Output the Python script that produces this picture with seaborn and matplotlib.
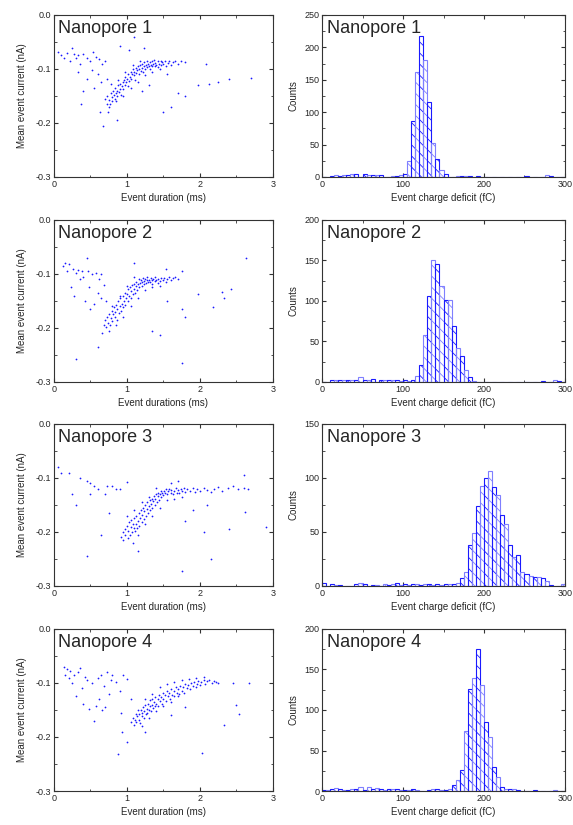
import numpy as np
import pandas as pd
import matplotlib
matplotlib.use("Agg")
import matplotlib.pyplot as plt
import seaborn as sns
from matplotlib.ticker import MultipleLocator

# ---- scatter data: (event duration ms, mean event current nA) ----
pore1_dur = [0.70, 0.72, 0.73, 0.75, 0.76, 0.78, 0.79, 0.80, 0.81, 0.82, 0.83, 0.84, 0.85, 0.86, 0.87, 0.88, 0.89, 0.90,
             0.91, 0.92, 0.93, 0.94, 0.95, 0.96, 0.97, 0.98, 0.99, 1.00, 1.01, 1.02, 1.03, 1.04, 1.05, 1.06, 1.07, 1.08,
             1.09, 1.10, 1.11, 1.12, 1.13, 1.14, 1.15, 1.16, 1.17, 1.18, 1.19, 1.20, 1.21, 1.22, 1.23, 1.24, 1.25, 1.26,
             1.27, 1.28, 1.29, 1.30, 1.31, 1.32, 1.33, 1.34, 1.35, 1.36, 1.37, 1.38, 1.39, 1.40, 1.42, 1.43, 1.44, 1.46,
             1.47, 1.48, 1.50, 1.52, 1.54, 1.56, 1.58, 1.60, 1.63, 1.66, 1.70, 1.74, 1.80, 0.74, 0.77, 0.85, 0.95, 1.05,
             1.15, 1.25, 1.35, 0.88, 0.98, 1.08, 1.18, 1.45,
             0.05, 0.10, 0.14, 0.18, 0.22, 0.25, 0.28, 0.30, 0.33, 0.36, 0.40, 0.45, 0.50, 0.53, 0.58, 0.62, 0.66, 0.70,
             0.33, 0.45, 0.52, 0.60, 0.65, 0.72, 0.78, 0.40, 0.55, 0.37, 0.63, 0.67, 0.87, 0.90, 1.03, 1.10, 1.24, 1.50,
             1.60, 1.70, 1.80, 1.98, 2.08, 2.12, 2.25, 2.40, 2.70, 1.55, 1.30, 1.20]
pore1_cur = [-0.155, -0.165, -0.150, -0.158, -0.170, -0.145, -0.152, -0.160, -0.140, -0.148, -0.155, -0.135, -0.145,
             -0.150, -0.140, -0.130, -0.143, -0.138, -0.128, -0.148, -0.132, -0.125, -0.138, -0.120, -0.130, -0.115,
             -0.125, -0.118, -0.132, -0.110, -0.122, -0.115, -0.105, -0.118, -0.110, -0.100, -0.112, -0.105, -0.120,
             -0.098, -0.108, -0.102, -0.095, -0.110, -0.100, -0.093, -0.104, -0.098, -0.090, -0.106, -0.095, -0.088,
             -0.100, -0.093, -0.086, -0.097, -0.091, -0.095, -0.088, -0.100, -0.092, -0.086, -0.095, -0.090, -0.084,
             -0.094, -0.089, -0.092, -0.086, -0.096, -0.090, -0.085, -0.093, -0.088, -0.091, -0.086, -0.094, -0.089,
             -0.085, -0.092, -0.088, -0.086, -0.090, -0.085, -0.088, -0.180, -0.165, -0.160, -0.150, -0.135, -0.125,
             -0.112, -0.105, -0.120, -0.105, -0.092, -0.085, -0.100,
             -0.068, -0.075, -0.080, -0.070, -0.085, -0.062, -0.073, -0.080, -0.075, -0.090, -0.072, -0.080, -0.086,
             -0.068, -0.078, -0.082, -0.090, -0.085, -0.105, -0.118, -0.102, -0.110, -0.125, -0.118, -0.128, -0.140,
             -0.135, -0.165, -0.180, -0.205, -0.195, -0.058, -0.065, -0.040, -0.062, -0.180, -0.170, -0.145, -0.150,
             -0.130, -0.090, -0.128, -0.125, -0.118, -0.116, -0.110, -0.130, -0.140]

pore2_dur = [0.68, 0.70, 0.71, 0.73, 0.74, 0.76, 0.77, 0.78, 0.79, 0.80, 0.81, 0.82, 0.83, 0.84, 0.85, 0.86, 0.87, 0.88,
             0.89, 0.90, 0.91, 0.92, 0.93, 0.94, 0.95, 0.96, 0.97, 0.98, 0.99, 1.00, 1.01, 1.02, 1.03, 1.04, 1.05, 1.06,
             1.07, 1.08, 1.09, 1.10, 1.11, 1.12, 1.13, 1.14, 1.15, 1.16, 1.17, 1.18, 1.19, 1.20, 1.21, 1.22, 1.23, 1.24,
             1.25, 1.26, 1.27, 1.28, 1.29, 1.30, 1.32, 1.33, 1.34, 1.35, 1.36, 1.38, 1.39, 1.40, 1.42, 1.43, 1.45, 1.47,
             1.49, 1.51, 1.53, 1.55, 1.58, 1.60, 1.63, 1.66, 1.70, 1.75, 0.75, 0.85, 0.95, 1.05, 1.15, 1.25, 0.80, 0.90,
             1.00, 1.10, 1.35, 1.45,
             0.12, 0.15, 0.18, 0.20, 0.24, 0.26, 0.28, 0.30, 0.33, 0.36, 0.38, 0.40, 0.42, 0.45, 0.46, 0.48, 0.50, 0.52,
             0.55, 0.58, 0.60, 0.62, 0.64, 0.65, 0.68, 0.71, 0.30, 0.61, 0.66, 1.10, 1.53, 1.35, 1.45, 1.75, 1.75, 1.80,
             1.98, 2.18, 2.30, 2.33, 2.43, 2.63, 1.55]
pore2_cur = [-0.195, -0.185, -0.198, -0.180, -0.190, -0.175, -0.195, -0.182, -0.168, -0.188, -0.175, -0.162, -0.180,
             -0.170, -0.158, -0.185, -0.165, -0.150, -0.172, -0.160, -0.145, -0.168, -0.155, -0.140, -0.162, -0.150,
             -0.135, -0.158, -0.145, -0.138, -0.128, -0.150, -0.140, -0.125, -0.145, -0.132, -0.120, -0.138, -0.128,
             -0.118, -0.135, -0.122, -0.114, -0.130, -0.118, -0.110, -0.125, -0.116, -0.112, -0.122, -0.114, -0.108,
             -0.118, -0.113, -0.110, -0.116, -0.112, -0.106, -0.115, -0.111, -0.114, -0.108, -0.112, -0.118, -0.110,
             -0.113, -0.106, -0.112, -0.116, -0.109, -0.113, -0.107, -0.112, -0.108, -0.115, -0.110, -0.106, -0.112,
             -0.108, -0.105, -0.110, -0.095, -0.205, -0.195, -0.180, -0.160, -0.145, -0.130, -0.160, -0.140, -0.122,
             -0.105, -0.125, -0.122,
             -0.085, -0.080, -0.095, -0.082, -0.125, -0.090, -0.140, -0.098, -0.092, -0.110, -0.095, -0.105, -0.150,
             -0.070, -0.095, -0.125, -0.165, -0.100, -0.155, -0.098, -0.135, -0.110, -0.145, -0.100, -0.120, -0.150,
             -0.258, -0.235, -0.210, -0.080, -0.090, -0.205, -0.213, -0.265, -0.165, -0.180, -0.138, -0.162, -0.133,
             -0.145, -0.127, -0.070, -0.150]

pore3_dur = [0.92, 0.94, 0.95, 0.97, 0.98, 1.00, 1.01, 1.02, 1.03, 1.04, 1.05, 1.06, 1.07, 1.08, 1.09, 1.10, 1.11, 1.12,
             1.13, 1.14, 1.15, 1.16, 1.17, 1.18, 1.19, 1.20, 1.21, 1.22, 1.23, 1.24, 1.25, 1.26, 1.27, 1.28, 1.29, 1.30,
             1.31, 1.32, 1.33, 1.34, 1.35, 1.36, 1.37, 1.38, 1.39, 1.40, 1.41, 1.42, 1.43, 1.44, 1.45, 1.46, 1.47, 1.48,
             1.50, 1.51, 1.52, 1.53, 1.55, 1.56, 1.58, 1.60, 1.61, 1.63, 1.65, 1.67, 1.68, 1.70, 1.72, 1.74, 1.76, 1.78,
             1.80, 1.83, 1.86, 1.90, 1.93, 1.96, 2.00, 2.05, 2.10, 2.15, 2.20, 2.25, 2.30, 2.38, 2.45, 2.52, 2.60, 2.66,
             1.00, 1.10, 1.20, 1.30, 1.15, 1.25, 1.35, 1.45, 1.55, 1.65, 1.75, 1.60, 1.70, 1.40, 1.08,
             0.05, 0.10, 0.20, 0.35, 0.45, 0.50, 0.55, 0.60, 0.25, 0.50, 0.72, 0.80, 0.85, 0.90, 1.00, 0.70, 0.30, 0.45,
             0.65, 0.75, 1.15, 1.75, 2.15, 2.05, 2.40, 2.62, 2.90, 2.60, 2.10, 1.80, 1.90]
pore3_cur = [-0.210, -0.200, -0.215, -0.195, -0.205, -0.188, -0.212, -0.198, -0.182, -0.205, -0.190, -0.178, -0.200,
             -0.185, -0.192, -0.175, -0.198, -0.186, -0.170, -0.192, -0.180, -0.165, -0.188, -0.175, -0.160, -0.182,
             -0.168, -0.155, -0.176, -0.162, -0.150, -0.170, -0.158, -0.145, -0.165, -0.152, -0.140, -0.160, -0.148,
             -0.138, -0.155, -0.142, -0.133, -0.150, -0.138, -0.130, -0.145, -0.134, -0.127, -0.140, -0.130, -0.124,
             -0.136, -0.128, -0.132, -0.124, -0.128, -0.121, -0.130, -0.125, -0.120, -0.128, -0.123, -0.130, -0.124,
             -0.119, -0.127, -0.122, -0.128, -0.121, -0.125, -0.118, -0.126, -0.121, -0.124, -0.119, -0.126, -0.121,
             -0.124, -0.118, -0.122, -0.126, -0.120, -0.117, -0.124, -0.119, -0.115, -0.121, -0.118, -0.120,
             -0.170, -0.160, -0.145, -0.135, -0.205, -0.185, -0.170, -0.155, -0.140, -0.138, -0.135, -0.110, -0.105,
             -0.118, -0.220,
             -0.080, -0.090, -0.090, -0.100, -0.105, -0.110, -0.115, -0.120, -0.130, -0.130, -0.115, -0.115, -0.120,
             -0.120, -0.108, -0.130, -0.150, -0.245, -0.205, -0.165, -0.235, -0.272, -0.250, -0.200, -0.195, -0.163,
             -0.190, -0.095, -0.150, -0.180, -0.160]

pore4_dur = [1.05, 1.08, 1.10, 1.11, 1.12, 1.13, 1.14, 1.15, 1.16, 1.17, 1.18, 1.19, 1.20, 1.21, 1.22, 1.23, 1.24, 1.25,
             1.26, 1.27, 1.28, 1.29, 1.30, 1.31, 1.32, 1.33, 1.34, 1.35, 1.36, 1.37, 1.38, 1.39, 1.40, 1.42, 1.43, 1.44,
             1.45, 1.47, 1.48, 1.49, 1.50, 1.52, 1.53, 1.55, 1.56, 1.58, 1.59, 1.60, 1.62, 1.64, 1.65, 1.67, 1.68, 1.70,
             1.72, 1.73, 1.75, 1.77, 1.78, 1.80, 1.82, 1.84, 1.86, 1.88, 1.90, 1.92, 1.94, 1.96, 1.98, 2.00, 2.02, 2.05,
             2.07, 2.10, 2.13, 2.16, 2.19, 2.22, 2.25, 1.20, 1.30, 1.40, 1.50, 1.60, 1.70, 1.25, 1.35, 1.45, 1.55, 1.65,
             1.75, 1.85, 1.95, 2.05,
             0.14, 0.15, 0.18, 0.20, 0.22, 0.25, 0.28, 0.30, 0.33, 0.36, 0.38, 0.40, 0.42, 0.45, 0.48, 0.52, 0.55, 0.58,
             0.60, 0.62, 0.65, 0.66, 0.68, 0.70, 0.72, 0.75, 0.78, 0.80, 0.85, 0.90, 0.95, 1.00, 0.92, 0.88, 1.00, 0.93,
             1.05, 2.03, 2.33, 2.50, 2.53, 2.45, 2.67, 1.80, 1.25, 1.60]
pore4_cur = [-0.172, -0.165, -0.178, -0.168, -0.158, -0.172, -0.162, -0.150, -0.168, -0.158, -0.175, -0.150, -0.162,
             -0.155, -0.145, -0.165, -0.152, -0.140, -0.158, -0.148, -0.155, -0.138, -0.150, -0.142, -0.132, -0.152,
             -0.140, -0.130, -0.146, -0.136, -0.142, -0.126, -0.138, -0.130, -0.142, -0.122, -0.134, -0.126, -0.138,
             -0.118, -0.130, -0.122, -0.133, -0.115, -0.125, -0.118, -0.130, -0.112, -0.122, -0.114, -0.125, -0.108,
             -0.118, -0.112, -0.120, -0.105, -0.114, -0.108, -0.118, -0.102, -0.110, -0.104, -0.112, -0.100, -0.106,
             -0.098, -0.108, -0.102, -0.096, -0.104, -0.099, -0.095, -0.102, -0.097, -0.094, -0.100, -0.096, -0.098,
             -0.100, -0.180, -0.165, -0.152, -0.142, -0.135, -0.125, -0.130, -0.120, -0.108, -0.102, -0.098, -0.095,
             -0.092, -0.090, -0.088,
             -0.070, -0.085, -0.075, -0.090, -0.078, -0.100, -0.085, -0.125, -0.080, -0.072, -0.110, -0.138, -0.088,
             -0.095, -0.148, -0.100, -0.170, -0.142, -0.090, -0.130, -0.085, -0.150, -0.105, -0.145, -0.080, -0.120,
             -0.095, -0.085, -0.098, -0.115, -0.085, -0.092, -0.155, -0.232, -0.210, -0.190, -0.130, -0.230, -0.178,
             -0.140, -0.158, -0.100, -0.100, -0.145, -0.190, -0.160]

# ---- histogram data: counts per 5 fC bin, 0..300 fC ----
bin_edges = list(range(0, 305, 5))
pore1_counts = [0, 0, 1, 3, 2, 3, 3, 4, 4, 0, 4, 3, 3, 3, 3, 0, 0, 2, 2, 3,
                5, 24, 86, 162, 218, 181, 115, 53, 27, 10, 5, 0, 0, 2, 1, 1, 1, 0, 1, 0,
                0, 0, 0, 0, 0, 0, 0, 0, 0, 0, 2, 0, 0, 0, 0, 3, 2, 0, 0, 0]
pore2_counts = [0, 0, 3, 2, 3, 2, 3, 2, 3, 6, 3, 2, 4, 0, 2, 2, 2, 2, 2, 1,
                2, 1, 2, 7, 21, 58, 106, 150, 146, 118, 101, 101, 69, 42, 32, 15, 6, 1, 0, 0,
                0, 0, 0, 0, 0, 0, 0, 0, 0, 0, 0, 0, 0, 0, 1, 0, 0, 2, 1, 0]
pore3_counts = [3, 0, 2, 1, 1, 0, 0, 0, 2, 3, 2, 0, 1, 1, 0, 2, 1, 2, 3, 1,
                2, 1, 2, 2, 1, 2, 2, 1, 2, 1, 2, 2, 2, 3, 7, 13, 38, 49, 74, 93,
                100, 106, 92, 84, 66, 57, 38, 27, 29, 13, 11, 9, 8, 8, 7, 5, 1, 0, 0, 2]
pore4_counts = [1, 1, 3, 4, 2, 1, 1, 2, 2, 5, 1, 5, 2, 4, 2, 1, 2, 3, 2, 1,
                1, 1, 2, 1, 0, 0, 1, 2, 2, 1, 1, 2, 7, 13, 26, 74, 126, 140, 175, 131,
                85, 67, 30, 17, 5, 2, 3, 3, 1, 0, 0, 0, 1, 0, 0, 0, 0, 1, 0, 0]

pore_names = ["Nanopore 1", "Nanopore 2", "Nanopore 3", "Nanopore 4"]
duration_labels = ["Event duration (ms)", "Event durations (ms)", "Event duration (ms)", "Event duration (ms)"]
count_ylims = [250, 200, 150, 200]

scatter_sets = [(pore1_dur, pore1_cur), (pore2_dur, pore2_cur), (pore3_dur, pore3_cur), (pore4_dur, pore4_cur)]
count_sets = [pore1_counts, pore2_counts, pore3_counts, pore4_counts]

sns.set_style("ticks")
plt.rcParams["font.family"] = ["Liberation Sans", "DejaVu Sans"]
plt.rcParams["hatch.linewidth"] = 0.6

BLUE = "#1a1aff"

fig = plt.figure(figsize=(5.73, 8.25), dpi=100)

bottoms = [0.7855, 0.537, 0.2897, 0.0412]
height = 0.1964


def style_axes(ax):
    for sp in ax.spines.values():
        sp.set_color("#333333")
        sp.set_linewidth(0.8)
    ax.tick_params(which="both", direction="in", top=True, right=True, labelsize=6.5,
                   color="#333333", pad=2)
    ax.tick_params(which="major", length=3)
    ax.tick_params(which="minor", length=1.8)


centers = np.array(bin_edges[:-1]) + 2.5

for i in range(4):
    # scatter
    ax = fig.add_axes([0.0942, bottoms[i], 0.382, height])
    dur, cur = scatter_sets[i]
    df = pd.DataFrame({"dur": dur, "cur": cur})
    sns.scatterplot(data=df, x="dur", y="cur", ax=ax, s=1.6, color=BLUE, linewidth=0)
    ax.set_xlim(0, 3)
    ax.set_ylim(-0.3, 0)
    ax.xaxis.set_major_locator(MultipleLocator(1))
    ax.xaxis.set_minor_locator(MultipleLocator(0.5))
    ax.yaxis.set_major_locator(MultipleLocator(0.1))
    ax.yaxis.set_minor_locator(MultipleLocator(0.05))
    ax.set_yticks([0.0, -0.1, -0.2, -0.3])
    ax.set_yticklabels(["0.0", "-0.1", "-0.2", "-0.3"])
    ax.set_xlabel(duration_labels[i], fontsize=7, labelpad=3)
    ax.set_ylabel("Mean event current (nA)", fontsize=7, labelpad=6)
    ax.text(0.02, 0.97, pore_names[i], transform=ax.transAxes, fontsize=13, va="top", ha="left")
    style_axes(ax)

    # histogram
    ax2 = fig.add_axes([0.562, bottoms[i], 0.424, height])
    hdf = pd.DataFrame({"charge": centers, "n": count_sets[i]})
    sns.histplot(data=hdf, x="charge", weights="n", bins=bin_edges, ax=ax2,
                 color=BLUE, element="bars", fill=True)
    for k, p in enumerate(ax2.patches):
        p.set_facecolor("none")
        p.set_edgecolor(BLUE if k % 2 == 0 else "#7f7fff")
        p.set_hatch("\\\\\\")
        p.set_linewidth(0.8)
        p.set_alpha(None)
    ax2.set_xlim(0, 300)
    ax2.set_ylim(0, count_ylims[i])
    ax2.xaxis.set_major_locator(MultipleLocator(100))
    ax2.xaxis.set_minor_locator(MultipleLocator(50))
    ax2.yaxis.set_major_locator(MultipleLocator(50))
    ax2.yaxis.set_minor_locator(MultipleLocator(25))
    ax2.set_xlabel("Event charge deficit (fC)", fontsize=7, labelpad=3)
    ax2.set_ylabel("Counts", fontsize=7, labelpad=4)
    ax2.text(0.02, 0.97, pore_names[i], transform=ax2.transAxes, fontsize=13, va="top", ha="left")
    style_axes(ax2)

fig.savefig("out.png", dpi=100)
